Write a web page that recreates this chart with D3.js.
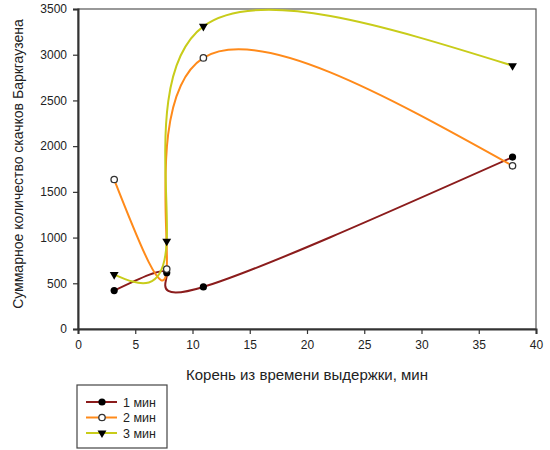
<!DOCTYPE html>
<html>
<head>
<meta charset="utf-8">
<script src="https://cdn.jsdelivr.net/npm/d3@7"></script>
<style>
  body { margin: 0; background: #fff; }
  text { font-family: "Liberation Sans", Arial, sans-serif; fill: #222; }
</style>
</head>
<body>
<div id="chart"></div>
<script>
// data
var xValues = [3.16, 7.75, 10.95, 37.95];
var series1 = [420, 615, 460, 1880];   // 1 мин
var series2 = [1635, 655, 2965, 1785]; // 2 мин
var series3 = [595, 960, 3310, 2880];  // 3 мин
var seriesNames = ["1 мин", "2 мин", "3 мин"];
var xTicks = [0, 5, 10, 15, 20, 25, 30, 35, 40];
var yTicks = [0, 500, 1000, 1500, 2000, 2500, 3000, 3500];

var svgWidth = 550;
var svgHeight = 450;
var margin = { top: 9, right: 14, bottom: 121, left: 78 };
var width = svgWidth - margin.left - margin.right;
var height = svgHeight - margin.top - margin.bottom;

var svg = d3.select("#chart")
  .append("svg")
  .attr("width", svgWidth)
  .attr("height", svgHeight);

var chartGroup = svg.append("g")
  .attr("transform", `translate(${margin.left}, ${margin.top})`);

var xScale = d3.scaleLinear().domain([0, 40]).range([0, width]);
var yScale = d3.scaleLinear().domain([0, 3500]).range([height, 0]);

// frame (top / right)
chartGroup.append("rect")
  .attr("width", width)
  .attr("height", height)
  .attr("fill", "none")
  .attr("stroke", "#555")
  .attr("stroke-width", 1.2);

var bottomAxis = d3.axisBottom(xScale).tickValues(xTicks).tickFormat(d3.format("d")).tickSize(5).tickPadding(6);
var leftAxis = d3.axisLeft(yScale).tickValues(yTicks).tickFormat(d3.format("d")).tickSize(5).tickPadding(6);

var gx = chartGroup.append("g")
  .attr("transform", `translate(0, ${height})`)
  .call(bottomAxis);
var gy = chartGroup.append("g").call(leftAxis);

[gx, gy].forEach(function(g) {
  g.select(".domain").attr("stroke", "#333").attr("stroke-width", 2);
  g.selectAll(".tick line").attr("stroke", "#333").attr("stroke-width", 1.2);
  g.selectAll(".tick text")
    .attr("fill", "#222")
    .style("font-size", "12px")
    .style("font-family", "'Liberation Sans', Arial, sans-serif");
});

var colors = ["#8b1c1c", "#ff8a1a", "#c8cc1a"];
var allSeries = [series1, series2, series3];

var line = d3.line()
  .x(function(d) { return xScale(d[0]); })
  .y(function(d) { return yScale(d[1]); })
  .curve(d3.curveNatural);

allSeries.forEach(function(vals, i) {
  var pts = xValues.map(function(x, j) { return [x, vals[j]]; });
  chartGroup.append("path")
    .datum(pts)
    .attr("fill", "none")
    .attr("stroke", colors[i])
    .attr("stroke-width", 2)
    .attr("d", line);
});

var tri = d3.symbol().type(d3.symbolTriangle).size(34);

function drawMarker(g, i, x, y) {
  if (i === 0) {
    g.append("circle").attr("cx", x).attr("cy", y).attr("r", 3.6).attr("fill", "#000");
  } else if (i === 1) {
    g.append("circle").attr("cx", x).attr("cy", y).attr("r", 3.2)
      .attr("fill", "#fff").attr("stroke", "#333").attr("stroke-width", 1.3);
  } else {
    g.append("path").attr("d", tri)
      .attr("transform", `translate(${x}, ${y}) rotate(180)`)
      .attr("fill", "#000");
  }
}

allSeries.forEach(function(vals, i) {
  xValues.forEach(function(x, j) {
    drawMarker(chartGroup, i, xScale(x), yScale(vals[j]));
  });
});

// axis titles
svg.append("text")
  .attr("x", 307)
  .attr("y", 380)
  .attr("text-anchor", "middle")
  .style("font-size", "15px")
  .text("Корень из времени выдержки, мин");

svg.append("text")
  .attr("transform", "translate(23, 164) rotate(-90)")
  .attr("text-anchor", "middle")
  .style("font-size", "14px")
  .text("Суммарное количество скачков Баркгаузена");

// legend
var legend = svg.append("g").attr("transform", "translate(77, 385)");
legend.append("rect")
  .attr("width", 90)
  .attr("height", 63)
  .attr("fill", "#fff")
  .attr("stroke", "#444")
  .attr("stroke-width", 1.2);

seriesNames.forEach(function(name, i) {
  var yy = 17 + i * 15.5;
  legend.append("line")
    .attr("x1", 9).attr("x2", 40)
    .attr("y1", yy).attr("y2", yy)
    .attr("stroke", colors[i]).attr("stroke-width", 2);
  drawMarker(legend, i, 25, yy);
  legend.append("text")
    .attr("x", 46)
    .attr("y", yy + 4.5)
    .style("font-size", "12.5px")
    .text(name);
});
</script>
</body>
</html>
